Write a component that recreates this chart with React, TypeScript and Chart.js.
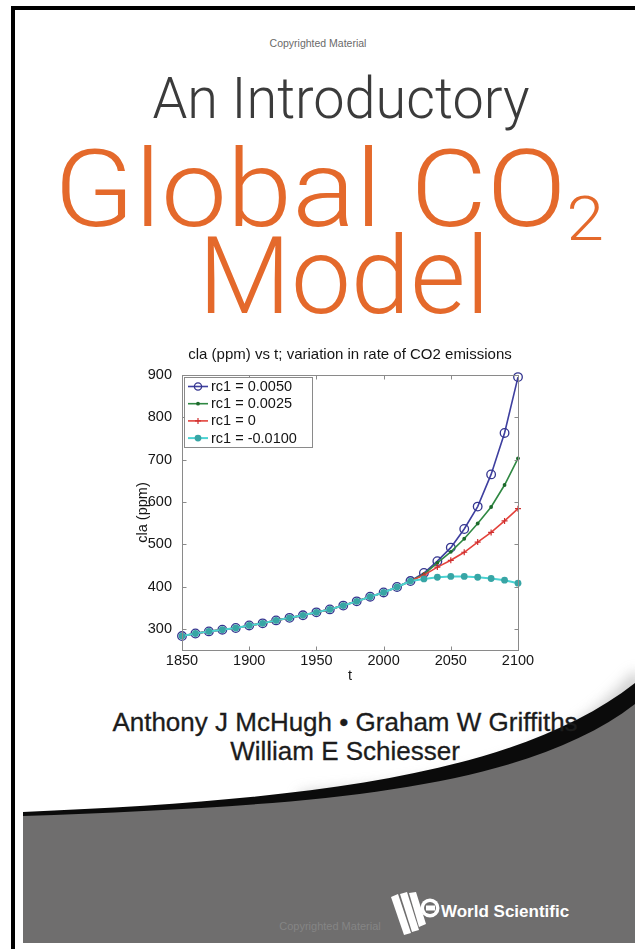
import React, { useEffect, useRef } from "react";
import { Chart, registerables } from "chart.js";

Chart.register(...registerables);

// ---------- data ----------
const years = [1850, 1860, 1870, 1880, 1890, 1900, 1910, 1920, 1930, 1940, 1950, 1960, 1970, 1980, 1990, 2000, 2010, 2020, 2030, 2040, 2050, 2060, 2070, 2080, 2090, 2100];
const rc1_0050 = [283, 289, 294, 298, 302, 308, 313, 320, 326, 332, 339, 346, 355, 365, 376, 386, 399, 413, 432, 460, 492, 536, 589, 665, 763, 895];
const rc1_0025 = [283, 289, 294, 298, 302, 308, 313, 320, 326, 332, 339, 346, 355, 365, 376, 386, 399, 413, 429, 456, 482, 513, 549, 588, 640, 703];
const rc1_0000 = [283, 289, 294, 298, 302, 308, 313, 320, 326, 332, 339, 346, 355, 365, 376, 386, 399, 413, 427, 446, 462, 481, 505, 528, 555, 584];
const rc1_m0100 = [283, 289, 294, 298, 302, 308, 313, 320, 326, 332, 339, 346, 355, 365, 376, 386, 399, 413, 418, 422, 424, 424, 422, 419, 415, 408];
const seriesLabels = ["rc1 = 0.0050", "rc1 = 0.0025", "rc1 = 0", "rc1 = -0.0100"];
const xTickValues = [1850, 1900, 1950, 2000, 2050, 2100];
const yTickValues = [300, 400, 500, 600, 700, 800, 900];
const chartTitle = "cla (ppm) vs t; variation in rate of CO2 emissions";
const yTitle = "cla (ppm)";
const xTitle = "t";

// ---------- styles ----------
const FONT = '"Liberation Sans", Arial, Helvetica, sans-serif';
const seriesStyles = [
  { line: "#3e3f9f", marker: "ring", mColor: "#34358f", radius: 4.3, width: 1.6 },
  { line: "#2f8842", marker: "dot", mColor: "#1d6a2c", radius: 1.9, width: 1.6 },
  { line: "#e3423b", marker: "cross", mColor: "#cf2f2f", radius: 3, width: 1.6 },
  { line: "#4bd3d3", marker: "dot", mColor: "#37a5a5", radius: 3.4, width: 2 },
];

function drawMarker(ctx: CanvasRenderingContext2D, kind: string, x: number, y: number, r: number, color: string) {
  ctx.save();
  if (kind === "ring") {
    ctx.strokeStyle = color;
    ctx.lineWidth = 1.3;
    ctx.beginPath();
    ctx.arc(x, y, r, 0, Math.PI * 2);
    ctx.stroke();
  } else if (kind === "dot") {
    ctx.fillStyle = color;
    ctx.beginPath();
    ctx.arc(x, y, r, 0, Math.PI * 2);
    ctx.fill();
  } else if (kind === "cross") {
    ctx.strokeStyle = color;
    ctx.lineWidth = 1.2;
    ctx.beginPath();
    ctx.moveTo(x - r, y);
    ctx.lineTo(x + r, y);
    ctx.moveTo(x, y - r);
    ctx.lineTo(x, y + r);
    ctx.stroke();
  }
  ctx.restore();
}

const matlabAxes = {
  id: "matlabAxes",
  afterDatasetsDraw(chart: any) {
    const { ctx, chartArea: a, scales } = chart;
    ctx.save();
    // title centred over the axes
    ctx.fillStyle = "#151515";
    ctx.font = `15px ${FONT}`;
    ctx.textAlign = "center";
    ctx.textBaseline = "middle";
    ctx.fillText(chartTitle, (a.left + a.right) / 2, a.top - 20);
    ctx.textAlign = "left";

    ctx.strokeStyle = "#8a8a8a";
    ctx.lineWidth = 1;
    const L = Math.round(a.left) + 0.5;
    const T = Math.round(a.top) + 0.5;
    const R = Math.round(a.right) + 0.5;
    const B = Math.round(a.bottom) + 0.5;
    ctx.strokeRect(L, T, R - L, B - T);
    ctx.beginPath();
    xTickValues.forEach((v) => {
      const x = Math.round(scales.x.getPixelForValue(v)) + 0.5;
      ctx.moveTo(x, B);
      ctx.lineTo(x, B - 4);
      ctx.moveTo(x, T);
      ctx.lineTo(x, T + 4);
    });
    yTickValues.forEach((v) => {
      const y = Math.round(scales.y.getPixelForValue(v)) + 0.5;
      ctx.moveTo(L, y);
      ctx.lineTo(L + 4, y);
      ctx.moveTo(R, y);
      ctx.lineTo(R - 4, y);
    });
    ctx.stroke();

    // legend box inside the axes (top-left)
    const lx = Math.round(a.left) + 2;
    const ly = Math.round(a.top) + 2;
    const lw = 128;
    const lh = 70;
    ctx.fillStyle = "#ffffff";
    ctx.fillRect(lx, ly, lw, lh);
    ctx.strokeStyle = "#8a8a8a";
    ctx.strokeRect(lx + 0.5, ly + 0.5, lw, lh);
    ctx.font = `14.5px ${FONT}`;
    ctx.textBaseline = "middle";
    seriesLabels.forEach((label, i) => {
      const st = seriesStyles[i];
      const y = ly + 9.5 + i * 17.2;
      ctx.strokeStyle = st.line;
      ctx.lineWidth = st.width;
      ctx.beginPath();
      ctx.moveTo(lx + 4, y);
      ctx.lineTo(lx + 24, y);
      ctx.stroke();
      drawMarker(ctx, st.marker, lx + 14, y, Math.min(st.radius, 3.6), st.mColor);
      ctx.fillStyle = "#151515";
      ctx.fillText(label, lx + 27, y + 0.5);
    });
    ctx.restore();
  },
};

function CoverChart() {
  const ref = useRef<HTMLCanvasElement>(null);
  useEffect(() => {
    const canvas = ref.current as HTMLCanvasElement;
    const series = [rc1_0050, rc1_0025, rc1_0000, rc1_m0100];
    const datasets = series.map((vals, i) => {
      const st = seriesStyles[i];
      const isRing = st.marker === "ring";
      return {
        label: seriesLabels[i],
        data: vals.map((v, k) => ({ x: years[k], y: v })),
        borderColor: st.line,
        borderWidth: st.width,
        backgroundColor: isRing ? "rgba(0,0,0,0)" : st.mColor,
        pointStyle: st.marker === "cross" ? "cross" : "circle",
        pointRadius: st.radius,
        pointBorderColor: st.mColor,
        pointBackgroundColor: isRing ? "rgba(0,0,0,0)" : st.mColor,
        pointBorderWidth: isRing ? 1.3 : st.marker === "cross" ? 1.2 : 0,
        tension: 0,
        clip: false,
        order: 3 - i,
      };
    });
    const chart = new Chart(canvas, {
      type: "line",
      data: { datasets } as any,
      options: {
        animation: false,
        responsive: false,
        devicePixelRatio: 1,
        layout: { padding: { left: 0, right: 62, top: 40, bottom: 0 } },
        plugins: {
          legend: { display: false },
          tooltip: { enabled: false },
          title: { display: false },
        },
        scales: {
          x: {
            type: "linear",
            min: 1850,
            max: 2100,
            grid: { display: false, drawTicks: false },
            border: { display: false },
            ticks: {
              color: "#151515",
              font: { family: FONT, size: 14.5 },
              padding: 2,
              maxRotation: 0,
              autoSkip: false,
              callback: (v: any) => String(v),
            },
            afterBuildTicks: (s: any) => {
              s.ticks = xTickValues.map((v) => ({ value: v }));
            },
            afterFit: (s: any) => {
              s.height = 35;
            },
            title: {
              display: true,
              text: xTitle,
              color: "#151515",
              font: { family: FONT, size: 14.5 },
              padding: { top: 4.5, bottom: 0 },
            },
          },
          y: {
            type: "linear",
            min: 250,
            max: 900,
            grid: { display: false, drawTicks: false },
            border: { display: false },
            ticks: {
              color: "#151515",
              font: { family: FONT, size: 14.5 },
              padding: 10,
              autoSkip: false,
              includeBounds: false,
            },
            afterBuildTicks: (s: any) => {
              s.ticks = yTickValues.map((v) => ({ value: v }));
            },
            afterFit: (s: any) => {
              s.width = 62;
            },
            title: {
              display: true,
              text: yTitle,
              color: "#151515",
              font: { family: FONT, size: 14.5 },
              padding: { top: 14, bottom: 0 },
            },
          },
        },
      } as any,
      plugins: [matlabAxes],
    });
    return () => chart.destroy();
  }, []);
  return (
    <canvas
      ref={ref}
      width={460}
      height={350}
      style={{ position: "absolute", left: 120, top: 335, width: 460, height: 350 }}
    />
  );
}

function Line(props: { cx: number; baseline: number; size: number; color: string; weight?: number; family?: string; sx?: number; stroke?: string; children: any }) {
  const { cx, baseline, size, color, weight = 400, family = FONT, sx = 1, stroke, children } = props;
  return (
    <div
      style={{
        position: "absolute",
        left: cx - 400,
        width: 800,
        top: baseline - size * 0.845,
        fontSize: size,
        lineHeight: `${size}px`,
        height: size,
        color,
        fontWeight: weight,
        fontFamily: family,
        textAlign: "center",
        whiteSpace: "nowrap",
        transform: `scaleX(${sx})`,
        transformOrigin: "50% 50%",
        WebkitTextStroke: stroke,
      }}
    >
      {children}
    </div>
  );
}

export default function App() {
  const TITLE_FONT = 'Roboto, "Liberation Sans", Arial, sans-serif';
  return (
    <div
      style={{
        position: "absolute",
        left: 0,
        top: 0,
        width: 635,
        height: 949,
        overflow: "hidden",
        background: "#ffffff",
        fontFamily: FONT,
      }}
    >
      <svg width={635} height={949} style={{ position: "absolute", left: 0, top: 0 }}>
        <defs>
          <filter id="blur" x="-20%" y="-50%" width="140%" height="200%">
            <feGaussianBlur stdDeviation="7" />
          </filter>
        </defs>
        {/* soft shadow above swoosh */}
        <path d="M300,800 C 450,790 560,770 640,676" stroke="#9a9a9a" strokeWidth={14} fill="none" filter="url(#blur)" opacity={0.55} />
        {/* grey bottom */}
        <path d="M23,815 C 300,805 520,791 635,702 L635,943 L23,943 Z" fill="#6f6e6e" />
        {/* black swoosh band */}
        <path d="M23,812 C 300,800 515,777 635,683 L635,704 C 520,793 300,806 23,816 Z" fill="#0b0b0b" />
        {/* frame */}
        <rect x={11} y={6} width={624} height={4} fill="#000" />
        <rect x={11} y={6} width={4} height={943} fill="#000" />
        {/* World Scientific logo */}
        <g fill="#ffffff">
          <polygon points="391,897 398,894 411,933 404,935" />
          <polygon points="400,894 407,892 419,930 412,932" />
          <polygon points="409,893 416,892 426,924 419,927" />
          <circle cx={430} cy={908} r={9.5} />
        </g>
        <circle cx={430} cy={908} r={6} fill="#6f6e6e" />
        <rect x={426} y={905.5} width={9} height={5} fill="#ffffff" />
        <text x={441} y={917} fill="#ffffff" fontFamily={FONT} fontWeight="bold" fontSize={17}>World Scientific</text>
        <text x={330} y={930} fill="#858585" fontFamily={FONT} fontSize={11} textAnchor="middle">Copyrighted Material</text>
      </svg>

      <Line cx={318} baseline={47} size={10.5} color="#6a6a6a">Copyrighted Material</Line>
      <Line cx={341} baseline={118} size={58} color="#3b3b3b" weight={300} family={TITLE_FONT} sx={0.962}>An Introductory</Line>
      <Line cx={329} baseline={226} size={108} color="#e4692b" weight={300} family={TITLE_FONT} sx={1.09}>
        Global CO<span style={{ fontSize: 62, lineHeight: "62px", verticalAlign: "-14px" }}>2</span>
      </Line>
      <Line cx={344} baseline={313} size={107} color="#e4692b" weight={300} family={TITLE_FONT}>Model</Line>

      <CoverChart />

      <Line cx={345} baseline={731} size={26} color="#1c1c1c" stroke="0.3px #1c1c1c">Anthony J McHugh • Graham W Griffiths</Line>
      <Line cx={345} baseline={760} size={26} color="#1c1c1c" stroke="0.3px #1c1c1c">William E Schiesser</Line>
    </div>
  );
}
